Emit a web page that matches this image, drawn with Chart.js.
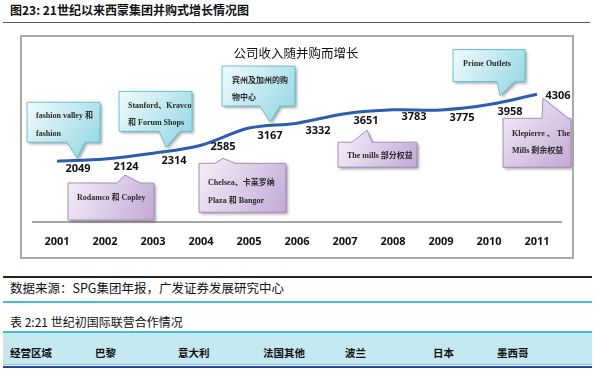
<!DOCTYPE html>
<html>
<head>
<meta charset="utf-8">
<script src="https://cdn.jsdelivr.net/npm/chart.js@4"></script>
<style>
  html, body { margin: 0; padding: 0; background: #fff; }
  body { width: 595px; height: 373px; position: relative; overflow: hidden; font-family: 'Noto Sans CJK SC', 'Liberation Sans', sans-serif; color: #111; }
  .abs { position: absolute; white-space: nowrap; }
  #hdr { left: 10px; top: 2px; font-size: 12px; font-weight: bold; line-height: 16px; }
  #topline { left: 3px; top: 22px; width: 587px; height: 0; border-top: 1.5px solid #555; }
  #box { left: 20px; top: 35px; width: 550px; height: 220px; border: 2px solid #a9a9a9; }
  #box canvas { display: block; }
  #srcline { left: 3px; top: 276px; width: 589px; height: 0; border-top: 2px solid #222; }
  #src { left: 10px; top: 280px; font-size: 12.5px; line-height: 16px; }
  #cyanline { left: 3px; top: 301px; width: 589px; height: 0; border-top: 2px solid #3fc0d6; }
  #tbltitle { left: 10px; top: 314px; font-size: 12px; line-height: 16px; }
  #band { left: 3px; top: 331px; width: 589px; height: 31px; background: #c4e8f0; border-top: 2px solid #3fc0d6; border-bottom: 1px solid #6ccbdc; }
  #blueline { left: 3px; top: 366px; width: 589px; height: 0; border-top: 2.5px solid #2d40a6; }
  .th { top: 345px; font-size: 10.5px; font-weight: bold; line-height: 16px; }
</style>
</head>
<body>
<div id="hdr" class="abs">图23: 21世纪以来西蒙集团并购式增长情况图</div>
<div id="topline" class="abs"></div>
<div id="box" class="abs"><canvas id="c" width="550" height="220"></canvas></div>
<div id="srcline" class="abs"></div>
<div id="src" class="abs">数据来源：SPG集团年报，广发证券发展研究中心</div>
<div id="cyanline" class="abs"></div>
<div id="tbltitle" class="abs">表 2:21 世纪初国际联营合作情况</div>
<div id="band" class="abs"></div>
<div id="blueline" class="abs"></div>
<div id="th"></div>
<script>
// ---- data ----
const years = ['2001','2002','2003','2004','2005','2006','2007','2008','2009','2010','2011'];
const revenue = [2049, 2124, 2314, 2585, 3167, 3332, 3651, 3783, 3775, 3958, 4306];
const chartTitle = '公司收入随并购而增长';
const upperNotes = [
  ['fashion valley 和', 'fashion'],
  ['Stanford、Kravco', '和 Forum Shops'],
  ['宾州及加州的购', '物中心'],
  ['Prime Outlets']
];
const upperNoteYears = ['2001', '2003', '2005', '2010'];
const lowerNotes = [
  ['Rodamco 和 Copley'],
  ['Chelsea、卡莱罗纳', 'Plaza 和 Bangor'],
  ['The mills 部分权益'],
  ['Klepierre 、 The', 'Mills 剩余权益']
];
const lowerNoteYears = ['2002', '2004', '2007', '2011'];
const tableHeaders = ['经营区域', '巴黎', '意大利', '法国其他', '波兰', '日本', '墨西哥'];

// ---- table header (HTML text) ----
const colX = [10, 95, 178, 263, 345, 433, 497];
tableHeaders.forEach((t, i) => {
  const d = document.createElement('div');
  d.className = 'abs th';
  d.style.left = colX[i] + 'px';
  d.textContent = t;
  document.body.appendChild(d);
});

// ---- callout layout (relative to anchor point pixel) ----
const upperLayout = [
  {box:[-30,43,-59,-19], base:[10,28], tip:[20,-3], tx:-21, ty:[-45,-27]},
  {box:[-34,39,-62,-22], base:[6,27],  tip:[13,-6], tx:-25, ty:[-47,-30]},
  {box:[-27,46,-62,-22], base:[11,31], tip:[21,-6], tx:-17, ty:[-47,-30]},
  {box:[-36,36,-55,-23], base:[8,26],  tip:[11,-9], tx:-26, ty:[-41]}
];
const lowerLayout = [
  {box:[-37,49,24,61],     base:[12,35], tip:[20,16],   tx:-28, ty:[39]},
  {box:[-2,85,18,67],      base:[14,34], tip:[22,13],   tx:7,   ty:[38,56]},
  {box:[-7,72,28.5,53.5],  base:[7,27],  tip:[22,16.5], tx:2,   ty:[42.5]},
  {box:[-34,34,24,73],     base:[5,31],  tip:[6,4],     tx:-25, ty:[40,57]}
];
const labelOffsets = {3:[22,2], 10:[21,2]};

function drawCallout(ctx, px, py, lay, lines, upper) {
  const x0 = px + lay.box[0], x1 = px + lay.box[1];
  const y0 = py + lay.box[2], y1 = py + lay.box[3];
  const b1 = px + lay.base[0], b2 = px + lay.base[1];
  const tx = px + lay.tip[0], ty = py + lay.tip[1];
  ctx.save();
  ctx.beginPath();
  if (upper) {
    ctx.moveTo(x0, y0); ctx.lineTo(x1, y0); ctx.lineTo(x1, y1);
    ctx.lineTo(b2, y1); ctx.lineTo(tx, ty); ctx.lineTo(b1, y1); ctx.lineTo(x0, y1);
  } else {
    ctx.moveTo(x0, y0); ctx.lineTo(b1, y0); ctx.lineTo(tx, ty); ctx.lineTo(b2, y0);
    ctx.lineTo(x1, y0); ctx.lineTo(x1, y1); ctx.lineTo(x0, y1);
  }
  ctx.closePath();
  const g = ctx.createLinearGradient(x0, Math.min(y0, ty), x1, Math.max(y1, ty));
  if (upper) { g.addColorStop(0, '#f2fbfd'); g.addColorStop(1, '#8fd5e2'); }
  else { g.addColorStop(0, '#f6f0f9'); g.addColorStop(1, '#c2a9d6'); }
  ctx.shadowColor = 'rgba(0,0,0,0.35)';
  ctx.shadowBlur = 3; ctx.shadowOffsetX = 2; ctx.shadowOffsetY = 2;
  ctx.fillStyle = g;
  ctx.fill();
  ctx.shadowColor = 'transparent';
  ctx.lineWidth = 1;
  ctx.strokeStyle = upper ? '#62c2d4' : '#a48bbd';
  ctx.stroke();
  ctx.fillStyle = '#2a2a2a';
  ctx.font = "bold 8px 'Liberation Serif', 'Noto Sans CJK SC', serif";
  ctx.textAlign = 'left';
  ctx.textBaseline = 'middle';
  lines.forEach((t, i) => ctx.fillText(t, px + lay.tx, py + lay.ty[i]));
  ctx.restore();
}

const annot = {
  id: 'annot',
  afterDatasetsDraw(chart) {
    const ctx = chart.ctx;
    const meta = chart.getDatasetMeta(0);
    // title
    ctx.save();
    ctx.fillStyle = '#111';
    ctx.font = "12.5px 'Noto Sans CJK SC', sans-serif";
    ctx.textAlign = 'center';
    ctx.textBaseline = 'middle';
    ctx.fillText(chartTitle, 274, 16);
    ctx.restore();
    upperNotes.forEach((lines, i) => {
      const idx = years.indexOf(upperNoteYears[i]);
      const p = meta.data[idx];
      drawCallout(ctx, p.x, p.y, upperLayout[i], lines, true);
    });
    lowerNotes.forEach((lines, i) => {
      const idx = years.indexOf(lowerNoteYears[i]);
      const p = meta.data[idx];
      drawCallout(ctx, p.x, p.y, lowerLayout[i], lines, false);
    });
    // data labels
    ctx.save();
    ctx.fillStyle = '#111';
    ctx.font = "bold 11px 'Open Sans', 'Liberation Sans', sans-serif";
    ctx.textAlign = 'center';
    ctx.textBaseline = 'middle';
    meta.data.forEach((p, i) => {
      const o = labelOffsets[i] || [21, 7.5];
      ctx.fillText(String(revenue[i]), p.x + o[0], p.y + o[1]);
    });
    ctx.restore();
  }
};

new Chart(document.getElementById('c'), {
  type: 'line',
  data: {
    labels: years,
    datasets: [{
      data: revenue,
      borderColor: '#2c5db2',
      borderWidth: 3,
      pointRadius: 0,
      tension: 0.35,
      fill: false
    }]
  },
  options: {
    responsive: false,
    animation: false,
    devicePixelRatio: 1,
    layout: { padding: { left: 11, right: 11, top: 7, bottom: 0 } },
    plugins: { legend: { display: false }, tooltip: { enabled: false }, title: { display: false } },
    scales: {
      x: {
        offset: true,
        grid: { display: false, drawTicks: false },
        border: { display: true, color: '#a6a6a6', width: 2 },
        ticks: { color: '#111', font: { family: "'Open Sans', 'Liberation Sans', sans-serif", size: 11, weight: 'bold' }, padding: 13, maxRotation: 0, autoSkip: false },
        afterFit(scale) { scale.height = 35; }
      },
      y: { display: false, min: 0, max: 6000 }
    }
  },
  plugins: [annot]
});
</script>
</body>
</html>
